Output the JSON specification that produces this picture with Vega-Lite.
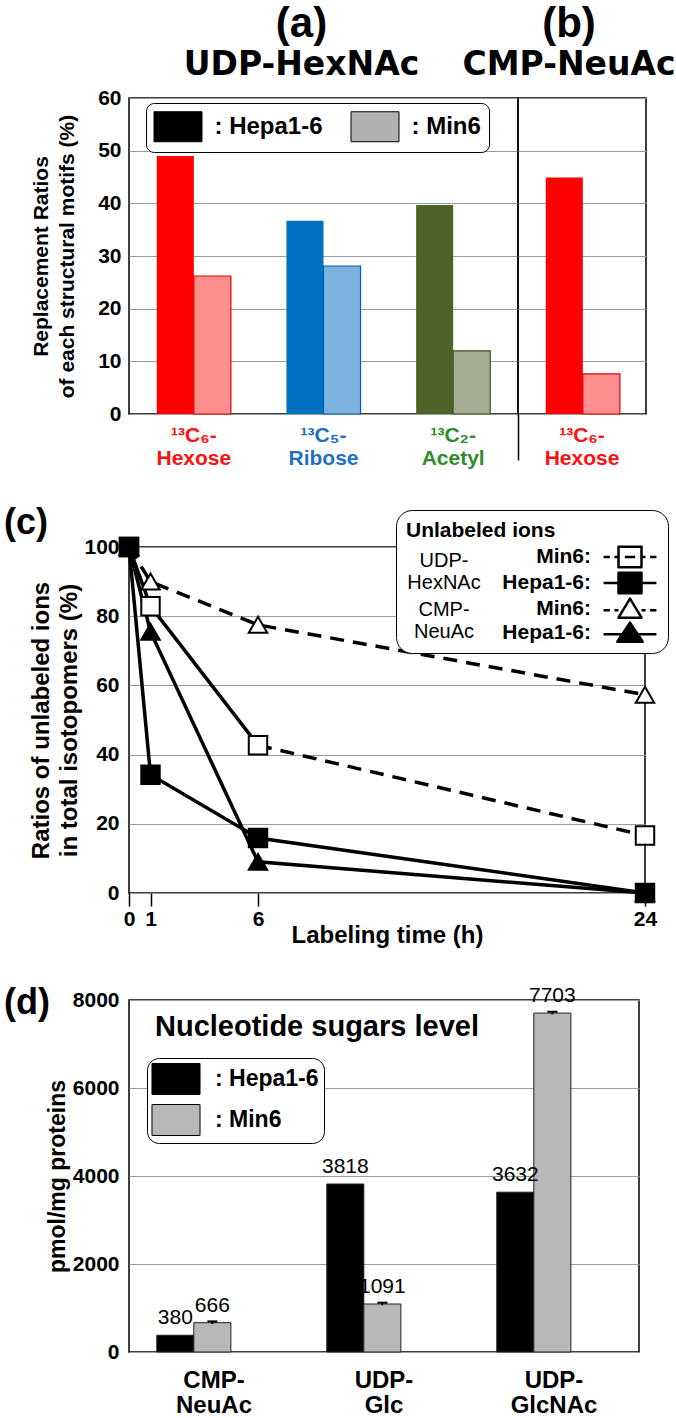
{
  "$schema": "https://vega.github.io/schema/vega-lite/v6.json",
  "padding": {"left": 3, "top": 2, "right": 0, "bottom": 0},
  "background": "white",
  "config": {
    "font": "Liberation Sans",
    "view": {"stroke": "black", "strokeWidth": 1.5},
    "axis": {"labelColor": "black", "titleColor": "black", "gridColor": "#9a9a9a", "gridWidth": 1.2, "labelFontWeight": "bold", "titleFontWeight": "bold", "domain": false, "ticks": false},
    "legend": {"labelColor": "black", "titleColor": "black"},
    "title": {"color": "black"}
  },
  "datasets": {
    "motifs": [
      {"panel": "a", "motif": "Hexose", "cell": "Hepa1-6", "value": 49.0},
      {"panel": "a", "motif": "Hexose", "cell": "Min6", "value": 26.2},
      {"panel": "a", "motif": "Ribose", "cell": "Hepa1-6", "value": 36.7},
      {"panel": "a", "motif": "Ribose", "cell": "Min6", "value": 28.1},
      {"panel": "a", "motif": "Acetyl", "cell": "Hepa1-6", "value": 39.7},
      {"panel": "a", "motif": "Acetyl", "cell": "Min6", "value": 12.0},
      {"panel": "b", "motif": "Hexose", "cell": "Hepa1-6", "value": 44.9},
      {"panel": "b", "motif": "Hexose", "cell": "Min6", "value": 7.6}
    ],
    "timecourse": [
      {"sugar": "CMP-NeuAc", "cell": "Min6", "series": "CMP Min6", "t": 0, "value": 100},
      {"sugar": "CMP-NeuAc", "cell": "Min6", "series": "CMP Min6", "t": 1, "value": 90.0},
      {"sugar": "CMP-NeuAc", "cell": "Min6", "series": "CMP Min6", "t": 6, "value": 77.5},
      {"sugar": "CMP-NeuAc", "cell": "Min6", "series": "CMP Min6", "t": 24, "value": 57.3},
      {"sugar": "UDP-HexNAc", "cell": "Min6", "series": "UDP Min6", "t": 0, "value": 100},
      {"sugar": "UDP-HexNAc", "cell": "Min6", "series": "UDP Min6", "t": 1, "value": 82.9},
      {"sugar": "UDP-HexNAc", "cell": "Min6", "series": "UDP Min6", "t": 6, "value": 42.7},
      {"sugar": "UDP-HexNAc", "cell": "Min6", "series": "UDP Min6", "t": 24, "value": 16.6},
      {"sugar": "CMP-NeuAc", "cell": "Hepa1-6", "series": "CMP Hepa", "t": 0, "value": 100},
      {"sugar": "CMP-NeuAc", "cell": "Hepa1-6", "series": "CMP Hepa", "t": 1, "value": 75.5},
      {"sugar": "CMP-NeuAc", "cell": "Hepa1-6", "series": "CMP Hepa", "t": 6, "value": 9.0},
      {"sugar": "CMP-NeuAc", "cell": "Hepa1-6", "series": "CMP Hepa", "t": 24, "value": 0},
      {"sugar": "UDP-HexNAc", "cell": "Hepa1-6", "series": "UDP Hepa", "t": 0, "value": 100},
      {"sugar": "UDP-HexNAc", "cell": "Hepa1-6", "series": "UDP Hepa", "t": 1, "value": 34.2},
      {"sugar": "UDP-HexNAc", "cell": "Hepa1-6", "series": "UDP Hepa", "t": 6, "value": 15.9},
      {"sugar": "UDP-HexNAc", "cell": "Hepa1-6", "series": "UDP Hepa", "t": 24, "value": 0}
    ],
    "levels": [
      {"sugar": "CMP-NeuAc", "cell": "Hepa1-6", "value": 380},
      {"sugar": "CMP-NeuAc", "cell": "Min6", "value": 666, "lo": 636, "hi": 696},
      {"sugar": "UDP-Glc", "cell": "Hepa1-6", "value": 3818},
      {"sugar": "UDP-Glc", "cell": "Min6", "value": 1091, "lo": 1061, "hi": 1121},
      {"sugar": "UDP-GlcNAc", "cell": "Hepa1-6", "value": 3632},
      {"sugar": "UDP-GlcNAc", "cell": "Min6", "value": 7703, "lo": 7673, "hi": 7733}
    ]
  },
  "spacing": 36,
  "resolve": {
    "scale": {"color": "independent", "fill": "independent", "stroke": "independent", "shape": "independent", "strokeDash": "independent"},
    "legend": {"color": "independent", "fill": "independent", "stroke": "independent", "shape": "independent", "strokeDash": "independent"}
  },
  "vconcat": [
    {
      "hconcat": [
        {
          "width": 389,
          "height": 316,
          "title": {"text": "(a)", "subtitle": "UDP-HexNAc", "font": "Liberation Sans", "fontSize": 42, "fontWeight": "bold", "subtitleFont": "DejaVu Sans", "subtitleFontSize": 33, "subtitleFontWeight": "bold", "subtitleColor": "black", "subtitlePadding": 3, "anchor": "middle", "dx": -22, "offset": 4},
          "data": {"name": "motifs"},
          "transform": [{"filter": "datum.panel == 'a'"}],
          "encoding": {
            "x": {"field": "motif", "type": "nominal", "sort": ["Hexose", "Ribose", "Acetyl"], "scale": {"paddingInner": 0, "paddingOuter": 0},
              "axis": {"title": null, "labelAngle": 0, "labelFontSize": 21, "labelLineHeight": 23, "labelPadding": 10,
                "labelExpr": "datum.value == 'Hexose' ? ['¹³C₆-', 'Hexose'] : datum.value == 'Ribose' ? ['¹³C₅-', 'Ribose'] : ['¹³C₂-', 'Acetyl']",
                "labelColor": {"condition": [{"test": "datum.value == 'Ribose'", "value": "#1f6fc5"}, {"test": "datum.value == 'Acetyl'", "value": "#2e8b2e"}], "value": "#ff1010"}}},
            "xOffset": {"field": "cell", "type": "nominal", "sort": ["Hepa1-6", "Min6"], "scale": {"paddingInner": 0, "paddingOuter": 0.75}},
            "y": {"field": "value", "type": "quantitative", "scale": {"domain": [0, 60], "nice": false},
              "axis": {"values": [0, 10, 20, 30, 40, 50, 60], "grid": true, "title": ["Replacement Ratios", "of each structural motifs (%)"], "titleFontSize": 21, "titleLineHeight": 26, "titlePadding": 20, "labelFontSize": 21, "labelPadding": 8}}
          },
          "layer": [
            {"transform": [{"filter": "datum.cell == 'Hepa1-6'"}], "mark": {"type": "bar"},
              "encoding": {"color": {"field": "motif", "type": "nominal", "scale": {"domain": ["Hexose", "Ribose", "Acetyl"], "range": ["#ff0000", "#0070c0", "#4f6228"]}, "legend": null}}},
            {"transform": [{"filter": "datum.cell == 'Min6'"}], "mark": {"type": "bar", "strokeWidth": 1.2},
              "encoding": {
                "fill": {"field": "motif", "type": "nominal", "scale": {"domain": ["Hexose", "Ribose", "Acetyl"], "range": ["#ff8f8f", "#7fb3df", "#a5ad93"]}, "legend": null},
                "stroke": {"field": "motif", "type": "nominal", "scale": {"domain": ["Hexose", "Ribose", "Acetyl"], "range": ["#e00000", "#0060b0", "#3f5220"]}, "legend": null}}},
            {"transform": [{"filter": "false"}], "mark": {"type": "square", "opacity": 1},
              "encoding": {"fill": {"field": "cell", "type": "nominal", "scale": {"domain": ["Hepa1-6", "Min6"], "range": ["black", "#b0b0b0"]},
                "legend": {"orient": "none", "legendX": 17, "legendY": 5, "direction": "horizontal", "title": null,
                  "symbolType": "M-1.6,-1H1.6V1H-1.6Z", "symbolSize": 900, "symbolStrokeColor": "black", "symbolStrokeWidth": 1, "symbolOffset": 8.5, "symbolOpacity": 1,
                  "labelOffset": 21, "labelFontSize": 24, "labelFontWeight": "bold", "labelExpr": "': ' + datum.label",
                  "columnPadding": 26, "padding": 8, "strokeColor": "black", "cornerRadius": 8, "fillColor": "white"}}}}
          ],
          "resolve": {"scale": {"fill": "independent", "color": "independent", "stroke": "independent"}, "legend": {"fill": "independent", "color": "independent", "stroke": "independent"}}
        },
        {
          "width": 128,
          "height": 316,
          "title": {"text": "(b)", "subtitle": "CMP-NeuAc", "font": "Liberation Sans", "fontSize": 42, "fontWeight": "bold", "subtitleFont": "DejaVu Sans", "subtitleFontSize": 33, "subtitleFontWeight": "bold", "subtitleColor": "black", "subtitlePadding": 3, "anchor": "middle", "dx": -13, "offset": 15},
          "data": {"name": "motifs"},
          "transform": [{"filter": "datum.panel == 'b'"}],
          "encoding": {
            "x": {"field": "motif", "type": "nominal", "scale": {"paddingInner": 0, "paddingOuter": 0},
              "axis": {"title": null, "labelAngle": 0, "labelFontSize": 21, "labelLineHeight": 23, "labelPadding": -36,
                "labelExpr": "['¹³C₆-', 'Hexose']", "labelColor": "#ff1010",
                "ticks": true, "bandPosition": 0, "tickSize": 46, "tickColor": "black", "tickWidth": 1.5}},
            "xOffset": {"field": "cell", "type": "nominal", "sort": ["Hepa1-6", "Min6"], "scale": {"paddingInner": 0, "paddingOuter": 0.75}},
            "y": {"field": "value", "type": "quantitative", "scale": {"domain": [0, 60], "nice": false},
              "axis": {"values": [0, 10, 20, 30, 40, 50, 60], "grid": true, "labels": false, "title": null}}
          },
          "layer": [
            {"transform": [{"filter": "datum.cell == 'Hepa1-6'"}], "mark": {"type": "bar", "color": "#ff0000"}},
            {"transform": [{"filter": "datum.cell == 'Min6'"}], "mark": {"type": "bar", "fill": "#ff8f8f", "stroke": "#e00000", "strokeWidth": 1.2}}
          ]
        }
      ],
      "spacing": 0,
      "bounds": "flush",
      "resolve": {
        "scale": {"color": "independent", "fill": "independent", "stroke": "independent"},
        "legend": {"color": "independent", "fill": "independent", "stroke": "independent"}
      }
    },
    {
      "width": 516,
      "height": 346,
      "data": {"name": "timecourse"},
      "encoding": {
        "x": {"field": "t", "type": "quantitative", "scale": {"domain": [0, 24], "nice": false, "zero": false},
          "axis": {"values": [0, 1, 6, 24], "format": "d", "labelOverlap": false, "labelFlush": false, "ticks": true, "tickSize": 13, "tickColor": "black", "tickWidth": 1.5, "labelFontSize": 21, "labelPadding": 2, "grid": false, "title": "Labeling time (h)", "titleFontSize": 24, "titlePadding": -6}},
        "y": {"field": "value", "type": "quantitative", "scale": {"domain": [0, 100], "nice": false},
          "axis": {"values": [0, 20, 40, 60, 80, 100], "grid": true, "title": ["Ratios of unlabeled ions", "in total isotopomers (%)"], "titleFontSize": 24, "titleLineHeight": 28, "titlePadding": 2, "labelFontSize": 21, "labelPadding": 10}}
      },
      "layer": [
        {"transform": [{"filter": "datum.cell == 'Hepa1-6'"}], "mark": {"type": "line", "color": "black", "strokeWidth": 3.5},
          "encoding": {"detail": {"field": "sugar"}}},
        {"transform": [{"filter": "datum.cell == 'Min6' && datum.sugar == 'UDP-HexNAc' && datum.t <= 6"}], "mark": {"type": "line", "color": "black", "strokeWidth": 3.5},
          "encoding": {"detail": {"field": "sugar"}}},
        {"transform": [{"filter": "datum.cell == 'Min6' && (datum.sugar == 'CMP-NeuAc' || datum.t >= 6)"}], "mark": {"type": "line", "color": "black", "strokeWidth": 3.5, "strokeDash": [14, 9]},
          "encoding": {"detail": {"field": "sugar"}}},
        {"transform": [{"filter": "datum.cell == 'Min6' && datum.sugar == 'CMP-NeuAc'"}], "mark": {"type": "point", "shape": "triangle-up", "filled": true, "fill": "white", "stroke": "black", "strokeWidth": 2, "size": 340, "opacity": 1}},
        {"transform": [{"filter": "datum.cell == 'Min6' && datum.sugar == 'UDP-HexNAc'"}], "mark": {"type": "point", "shape": "square", "filled": true, "fill": "white", "stroke": "black", "strokeWidth": 2, "size": 340, "opacity": 1}},
        {"transform": [{"filter": "datum.cell == 'Hepa1-6' && datum.sugar == 'CMP-NeuAc'"}], "mark": {"type": "point", "shape": "triangle-up", "filled": true, "fill": "black", "stroke": "black", "strokeWidth": 2, "size": 340, "opacity": 1}},
        {"transform": [{"filter": "datum.cell == 'Hepa1-6' && datum.sugar == 'UDP-HexNAc'"}], "mark": {"type": "point", "shape": "square", "filled": true, "fill": "black", "stroke": "black", "strokeWidth": 2, "size": 340, "opacity": 1}},
        {"mark": {"type": "point", "filled": true, "opacity": 0},
          "encoding": {
            "shape": {"field": "series", "type": "nominal",
              "scale": {"domain": ["UDP Min6", "UDP Hepa", "CMP Min6", "CMP Hepa"],
                "range": ["M-2.3,0H-1.75M-1.35,0H-1M-0.45,0H0.45M1,0H1.35M1.75,0H2.3M-1,-0.9H1V0.9H-1Z", "M-2.3,0H2.3M-1,-0.9H1V0.9H-1Z", "M-2.3,0.1H-1.75M-1.35,0.1H-1M1,0.1H1.35M1.75,0.1H2.3M0,-0.9L1,0.75H-1Z", "M-2.3,0.1H2.3M0,-0.9L1.1,0.75H-1.1Z"]},
              "legend": {"title": "Unlabeled ions", "orient": "none", "legendX": 267, "legendY": -37, "direction": "vertical",
                "titleFontSize": 21, "titleFontWeight": "bold", "titlePadding": 3,
                "symbolSize": 529, "symbolStrokeColor": "black", "symbolStrokeWidth": 2.5, "symbolOffset": 211, "symbolOpacity": 1,
                "labelAlign": "right", "labelOffset": -52, "labelFontSize": 21, "labelFontWeight": "bold",
                "labelExpr": "indexof(datum.value, 'Min6') >= 0 ? 'Min6:' : 'Hepa1-6:'",
                "rowPadding": 1, "padding": 10, "strokeColor": "black", "cornerRadius": 16, "fillColor": "white", "zindex": 0,
                "encode": {"symbols": {"update": {"stroke": {"value": "black"}, "strokeWidth": {"value": 2.5}, "strokeJoin": {"value": "round"}, "opacity": {"value": 1}}}}}},
            "fill": {"field": "series", "type": "nominal",
              "scale": {"domain": ["UDP Min6", "UDP Hepa", "CMP Min6", "CMP Hepa"], "range": ["white", "black", "white", "black"]},
              "legend": {"title": "Unlabeled ions", "orient": "none", "legendX": 267, "legendY": -37, "direction": "vertical",
                "titleFontSize": 21, "titleFontWeight": "bold", "titlePadding": 3,
                "symbolSize": 529, "symbolStrokeColor": "black", "symbolStrokeWidth": 2.5, "symbolOffset": 211, "symbolOpacity": 1,
                "labelAlign": "right", "labelOffset": -52, "labelFontSize": 21, "labelFontWeight": "bold",
                "labelExpr": "indexof(datum.value, 'Min6') >= 0 ? 'Min6:' : 'Hepa1-6:'",
                "rowPadding": 1, "padding": 10, "strokeColor": "black", "cornerRadius": 16, "fillColor": "white", "zindex": 0,
                "encode": {"symbols": {"update": {"stroke": {"value": "black"}, "strokeWidth": {"value": 2.5}, "strokeJoin": {"value": "round"}, "opacity": {"value": 1}}}}}}}},
        {"mark": {"type": "point", "opacity": 0},
          "encoding": {
            "strokeDash": {"field": "sugar", "type": "nominal", "sort": "descending",
              "legend": {"title": null, "orient": "none", "legendX": 295, "legendY": 4, "direction": "vertical",
                "labelExpr": "datum.value == 'UDP-HexNAc' ? ['UDP-', 'HexNAc'] : ['CMP-', 'NeuAc']",
                "labelAlign": "center", "labelFontSize": 20, "labelFontWeight": "normal", "labelLineHeight": 23, "labelOffset": 0,
                "symbolOpacity": 0, "symbolSize": 1, "rowPadding": 6.5, "padding": 0, "zindex": 1}}}},
        {"mark": {"type": "point", "opacity": 0},
          "encoding": {
            "color": {"field": "cell", "type": "nominal",
              "legend": {"title": "(c)", "orient": "none", "legendX": -125, "legendY": -41,
                "titleFontSize": 36, "titleFontWeight": "bold", "titleLimit": 200, "titlePadding": 0,
                "labelExpr": "''", "symbolOpacity": 0, "symbolSize": 1, "padding": 0}}}}
      ]
    },
    {
      "width": 510,
      "height": 352,
      "data": {"name": "levels"},
      "encoding": {
        "x": {"field": "sugar", "type": "nominal", "sort": ["CMP-NeuAc", "UDP-Glc", "UDP-GlcNAc"], "scale": {"paddingInner": 0, "paddingOuter": 0},
          "axis": {"title": null, "labelAngle": 0, "labelFontSize": 24, "labelLineHeight": 25, "labelPadding": 16,
            "labelExpr": "datum.value == 'CMP-NeuAc' ? ['CMP-', 'NeuAc'] : datum.value == 'UDP-Glc' ? ['UDP-', 'Glc'] : ['UDP-', 'GlcNAc']"}},
        "xOffset": {"field": "cell", "type": "nominal", "sort": ["Hepa1-6", "Min6"], "scale": {"paddingInner": 0, "paddingOuter": 0.745}},
        "y": {"field": "value", "type": "quantitative", "title": "pmol/mg proteins", "scale": {"domain": [0, 8000], "nice": false},
          "axis": {"values": [0, 2000, 4000, 6000, 8000], "format": "d", "grid": true, "labelFontSize": 21, "labelPadding": 10, "titleFontSize": 23, "titlePadding": 3}}
      },
      "layer": [
        {"mark": {"type": "bar", "stroke": "#222222", "strokeWidth": 1},
          "encoding": {"fill": {"field": "cell", "type": "nominal", "scale": {"domain": ["Hepa1-6", "Min6"], "range": ["black", "#b8b8b8"]},
            "legend": {"orient": "none", "legendX": 18, "legendY": 58, "direction": "vertical", "title": null,
              "symbolType": "M-1.55,-1H1.55V1H-1.55Z", "symbolSize": 961, "symbolStrokeColor": "black", "symbolStrokeWidth": 1, "symbolOffset": 8,
              "labelOffset": 23, "labelFontSize": 23, "labelFontWeight": "bold", "labelExpr": "': ' + datum.label",
              "rowPadding": 5, "padding": 5, "strokeColor": "black", "cornerRadius": 12, "fillColor": "white"}}}},
        {"transform": [{"filter": "datum.cell == 'Min6'"}], "mark": {"type": "rule", "color": "black", "strokeWidth": 2},
          "encoding": {"y": {"field": "lo", "type": "quantitative", "title": "pmol/mg proteins"}, "y2": {"field": "hi"}}},
        {"transform": [{"filter": "datum.cell == 'Min6'"}], "mark": {"type": "tick", "color": "black", "thickness": 2, "size": 10, "opacity": 1},
          "encoding": {"y": {"field": "hi", "type": "quantitative", "title": "pmol/mg proteins"}}},
        {"mark": {"type": "text", "dy": -11, "baseline": "alphabetic", "fontSize": 21, "fontWeight": "normal", "color": "black"},
          "encoding": {"text": {"field": "value", "type": "quantitative", "format": "d"}}},
        {"transform": [{"filter": "false"}], "mark": {"type": "point"},
          "encoding": {"shape": {"field": "note", "type": "nominal", "scale": {"domain": ["t"]},
            "legend": {"title": "Nucleotide sugars level", "orient": "none", "legendX": 26, "legendY": 13,
              "titleFontSize": 29, "titleFontWeight": "bold", "titleLimit": 500, "labelExpr": "''", "symbolOpacity": 0, "symbolSize": 1, "padding": 0}}}},
        {"mark": {"type": "point", "opacity": 0},
          "encoding": {"strokeDash": {"field": "sugar", "type": "nominal",
            "legend": {"title": "(d)", "orient": "none", "legendX": -125, "legendY": -14,
              "titleFontSize": 36, "titleFontWeight": "bold", "titleLimit": 200, "titlePadding": 0,
              "labelExpr": "''", "symbolOpacity": 0, "symbolSize": 1, "padding": 0}}}}
      ]
    }
  ]
}
